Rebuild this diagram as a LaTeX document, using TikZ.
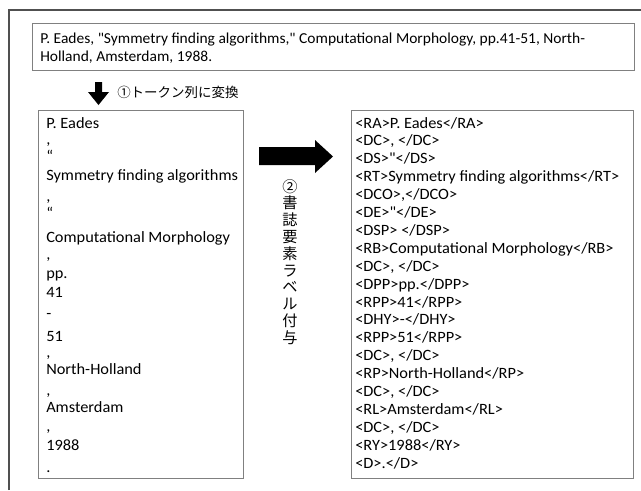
\documentclass[tikz,border=0pt]{standalone}
\usepackage{fontspec}
\newfontfamily\listfont{Carlito}[FakeStretch=1.04]
\newfontfamily\citefont{Carlito}[FakeStretch=1.02]
\newfontfamily\jp{Noto Sans CJK JP}
\definecolor{boxgray}{HTML}{808080}
\definecolor{framegray}{HTML}{505050}
\begin{document}
\begin{tikzpicture}[x=0.75pt,y=-0.75pt,
  txt/.style={anchor=base west,inner sep=0pt,font=\listfont\fontsize{11.8}{13}\selectfont},
  citetxt/.style={anchor=base west,inner sep=0pt,font=\citefont\fontsize{11.4}{13}\selectfont},
  box/.style={draw=boxgray,line width=0.8pt,anchor=north west,inner sep=0pt},
  jptxt/.style={inner sep=0pt,font=\jp\fontsize{10.1}{12.6}\selectfont}]
\useasboundingbox (0,0) rectangle (641,490);
\draw[framegray,line width=1.4pt] (9,490) -- (9,10) -- (641,10);
% boxes
\node[box,minimum width=451.5pt,minimum height=35.25pt] (cite) at (32,23) {};
\node[box,minimum width=153.75pt,minimum height=276pt] (tok) at (38,110) {};
\node[box,minimum width=211.5pt,minimum height=276pt] (lab) at (351,110) {};
% citation text
\node[citetxt] (c1) at (40,43) {P. Eades, "Symmetry finding algorithms," Computational Morphology, pp.41-51, North-};
\node[citetxt] (c2) at (40,61) {Holland, Amsterdam, 1988.};
% small arrow
\fill[black] (95,82) -- (102,82) -- (102,92) -- (109,92) -- (98.5,105) -- (88,92) -- (95,92) -- cycle;
\node[jptxt,anchor=west] (step1) at (117,92) {①トークン列に変換};
% big arrow
\fill[black] (259,147) -- (315,147) -- (315,140) -- (333,156.5) -- (315,173) -- (315,165) -- (259,165) -- cycle;
\node[jptxt,font=\jp\fontsize{11.4}{12.6}\selectfont,anchor=north,align=center] (step2) at (290,179) {②\\書\\誌\\要\\素\\ラ\\ベ\\ル\\付\\与};
% token list
\node[txt] (t1) at (46,128) {P. Eades};
\node[txt] (t2) at (46,144) {,};
\node[txt] (t3) at (46,161) {“};
\node[txt] (t4) at (46,180) {Symmetry finding algorithms};
\node[txt] (t5) at (46,201) {,};
\node[txt] (t6) at (46,218) {“};
\node[txt] (t7) at (46,242) {Computational Morphology};
\node[txt] (t8) at (46,259) {,};
\node[txt] (t9) at (46,278) {pp.};
\node[txt] (t10) at (46,297) {41};
\node[txt] (t11) at (46,318) {-};
\node[txt] (t12) at (46,341) {51};
\node[txt] (t13) at (46,357) {,};
\node[txt] (t14) at (46,374) {North-Holland};
\node[txt] (t15) at (46,395) {,};
\node[txt] (t16) at (46,412) {Amsterdam};
\node[txt] (t17) at (46,431) {,};
\node[txt] (t18) at (46,450) {1988};
\node[txt] (t19) at (46,472) {.};
% labelled list
\foreach \s [count=\i from 0] in {
  {<RA>P. Eades</RA>},
  {<DC>, </DC>},
  {<DS>"</DS>},
  {<RT>Symmetry finding algorithms</RT>},
  {<DCO>,</DCO>},
  {<DE>"</DE>},
  {<DSP> </DSP>},
  {<RB>Computational Morphology</RB>},
  {<DC>, </DC>},
  {<DPP>pp.</DPP>},
  {<RPP>41</RPP>},
  {<DHY>-</DHY>},
  {<RPP>51</RPP>},
  {<DC>, </DC>},
  {<RP>North-Holland</RP>},
  {<DC>, </DC>},
  {<RL>Amsterdam</RL>},
  {<DC>, </DC>},
  {<RY>1988</RY>},
  {<D>.</D>}}
  \node[txt] (r\i) at (355,128+17.9*\i) {\s};
\end{tikzpicture}
\end{document}
